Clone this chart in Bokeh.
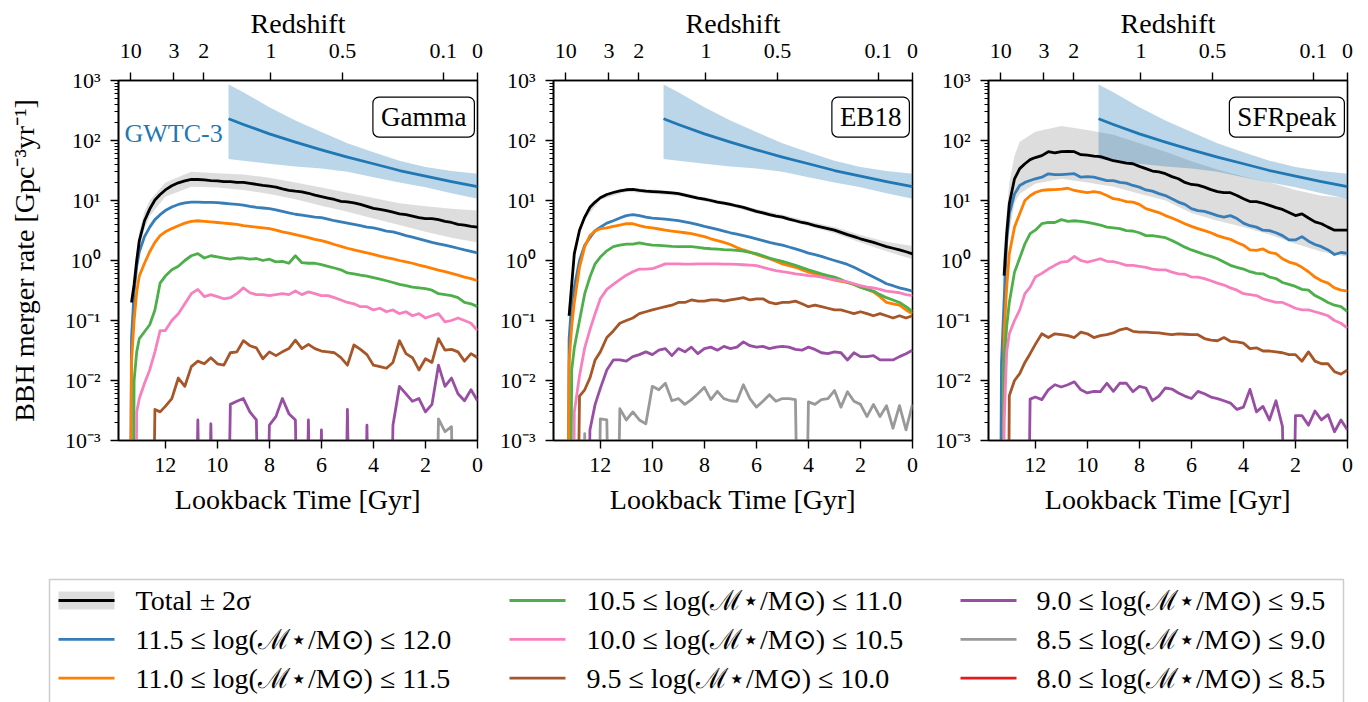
from bokeh.plotting import figure
from bokeh.models import Range1d, LinearAxis, FixedTicker, Label
from bokeh.layouts import row, column
from bokeh.embed import file_html
from bokeh.resources import INLINE
from bokeh.core.properties import value

nan = float("nan")

# ---------------------------------------------------------------- data
# lookback time grid [Gyr] shared by all rate curves
t_grid = [13.4, 13.3, 13.2, 13.1, 13.0, 12.8, 12.6, 12.4, 12.2,
          12.0, 11.75, 11.5, 11.25, 11.0, 10.75, 10.5, 10.25, 10.0, 9.75,
          9.5, 9.25, 9.0, 8.75, 8.5, 8.25, 8.0, 7.75, 7.5, 7.25,
          7.0, 6.75, 6.5, 6.25, 6.0, 5.75, 5.5, 5.25, 5.0, 4.75,
          4.5, 4.25, 4.0, 3.75, 3.5, 3.25, 3.0, 2.75, 2.5, 2.25,
          2.0, 1.75, 1.5, 1.25, 1.0, 0.75, 0.5, 0.25, 0.0]
# lookback time grid for the +-2 sigma envelope of the total rate
t_band = [13.25, 13.0, 12.8, 12.6, 12.0, 11.0, 10.0, 9.0, 8.0, 7.0, 6.0,
          5.0, 4.0, 3.0, 2.0, 1.0, 0.0]

# GWTC-3 inferred BBH merger rate (median and 90% band)
gw_t = [9.57, 9.0, 8.0, 7.0, 6.0, 5.0, 4.0, 3.0, 2.0, 1.0, 0.0]
gw_mid = [230, 185, 129, 94, 70, 53, 41, 31.6, 25.5, 20.7, 17.1]
gw_hi = [858, 640, 359, 215, 138, 90, 64, 46, 36, 31, 27.8]
gw_lo = [49, 46, 41, 37, 34, 30, 24.5, 20, 16.7, 13.2, 10.7]

# redshift ticks on the top axis and their lookback times [Gyr]
z_labels = ["10", "3", "2", "1", "0.5", "0.1", "0"]
z_lookback = [13.33, 11.67, 10.52, 7.94, 5.19, 1.32, 0.0]

# ---- Gamma model [Gpc^-3 yr^-1]
gamma_total = [nan, 0.2, 0.4, 1.0, 2.15, 4.6, 7.2, 10.2, 12.6, 15,
               17.6, 19.7, 21.3, 22.4, 22.4, 22, 21.5, 21.2, 20.6, 20.6,
               20, 20, 19.3, 18.6, 17.9, 17.4, 16.7, 15.6, 14.8, 14.3,
               13.9, 13.2, 12.3, 11.6, 11.0, 10.4, 9.7, 9.5, 9.1, 8.6,
               8.0, 7.4, 7.1, 6.8, 6.4, 6.0, 5.8, 5.5, 5.2, 5.0,
               5.0, 4.8, 4.5, 4.3, 4.0, 3.9, 3.7, 3.6]
gamma_hi = [0.3, 3.0, 6.5, 10, 20, 30, 28.5, 27, 24, 20, 16.5, 13.5, 11, 9.0, 8.0, 7.3, 6.8]
gamma_lo = [0.15, 1.6, 3.3, 5.5, 11.5, 17, 16.5, 15, 12.8, 10.5, 8.2, 6.5, 5.0, 3.9, 3.0, 2.4, 2.0]
gamma_m115 = [0, 0.05, 0.3, 0.8, 1.4, 2.5, 3.6, 4.8, 5.8, 6.8,
              7.8, 8.6, 9.1, 9.4, 9.4, 9.3, 9.3, 9.2, 9.0, 8.8,
              8.6, 8.4, 8.0, 7.7, 7.5, 7.3, 7.0, 6.6, 6.2, 5.9,
              5.7, 5.5, 5.3, 5.2, 4.9, 4.6, 4.4, 4.2, 4.0, 3.8,
              3.6, 3.5, 3.3, 3.1, 3.0, 2.8, 2.6, 2.45, 2.3, 2.15,
              2.0, 1.9, 1.8, 1.7, 1.6, 1.5, 1.42, 1.34]
gamma_m110 = [0, 0.02, 0.1, 0.3, 0.55, 0.9, 1.4, 2.0, 2.6, 3.0,
              3.4, 3.8, 4.2, 4.5, 4.6, 4.5, 4.4, 4.3, 4.2, 4.1,
              4.0, 3.8, 3.7, 3.6, 3.5, 3.4, 3.2, 3.0, 2.85, 2.7,
              2.55, 2.4, 2.25, 2.15, 2.0, 1.85, 1.72, 1.6, 1.5, 1.42,
              1.34, 1.26, 1.18, 1.12, 1.06, 1.0, 0.95, 0.9, 0.84, 0.79,
              0.74, 0.69, 0.65, 0.61, 0.57, 0.53, 0.5, 0.46]
gamma_m105 = [0, 0, 0.01, 0.03, 0.05, 0.065, 0.085, 0.15, 0.42, 0.55,
              0.7, 0.8, 1.0, 1.2, 1.3, 1.1, 1.2, 1.15, 1.1, 1.05,
              1.1, 1.1, 1.05, 1.08, 1.0, 1.05, 0.95, 0.97, 0.9, 1.2,
              0.92, 0.9, 0.9, 0.85, 0.8, 0.75, 0.7, 0.62, 0.6, 0.57,
              0.55, 0.52, 0.49, 0.46, 0.43, 0.4, 0.38, 0.36, 0.35, 0.34,
              0.32, 0.28, 0.27, 0.26, 0.24, 0.2, 0.19, 0.17]
gamma_m100 = [0, 0, 0, 0.003, 0.005, 0.009, 0.015, 0.03, 0.068, 0.068,
              0.1, 0.13, 0.19, 0.28, 0.33, 0.25, 0.27, 0.25, 0.23, 0.24,
              0.28, 0.35, 0.29, 0.27, 0.27, 0.26, 0.27, 0.28, 0.27, 0.31,
              0.27, 0.3, 0.28, 0.26, 0.26, 0.24, 0.22, 0.2, 0.19, 0.17,
              0.17, 0.15, 0.16, 0.14, 0.15, 0.13, 0.14, 0.12, 0.13, 0.11,
              0.12, 0.13, 0.095, 0.1, 0.11, 0.1, 0.09, 0.068]
gamma_m095 = [0, 0, 0, 0, 0, 0, 0, 0.0033, 0.003, 0.0037,
              0.005, 0.011, 0.008, 0.017, 0.021, 0.019, 0.024, 0.019, 0.018, 0.029,
              0.03, 0.046, 0.038, 0.035, 0.023, 0.03, 0.026, 0.03, 0.034, 0.047,
              0.034, 0.04, 0.034, 0.031, 0.03, 0.029, 0.024, 0.018, 0.039, 0.033,
              0.027, 0.018, 0.017, 0.016, 0.02, 0.046, 0.028, 0.024, 0.015, 0.023,
              0.02, 0.05, 0.032, 0.033, 0.03, 0.021, 0.028, 0.024]
gamma_m090 = [0, 0, 0, 0, 0, 0, 0, 0, 0, 0,
              0, 0, 0, 0, 0.0022, 0, 0.0019, 0, 0, 0.004,
              0.0045, 0.005, 0.003, 0.0022, 0, 0.0018, 0.0025, 0.005, 0.0028, 0.0022,
              0, 0.0022, 0, 0.0015, 0, 0, 0, 0.0033, 0, 0,
              0.0018, 0, 0, 0, 0.0018, 0.008, 0.006, 0.0045, 0.005, 0.003,
              0.004, 0.018, 0.008, 0.011, 0.006, 0.0046, 0.007, 0.0046]
gamma_m085 = [0, 0, 0, 0, 0, 0, 0, 0, 0, 0,
              0, 0, 0, 0, 0, 0, 0, 0, 0, 0,
              0, 0, 0, 0, 0, 0, 0, 0, 0, 0,
              0, 0, 0, 0, 0, 0, 0, 0, 0, 0,
              0, 0, 0, 0, 0, 0, 0, 0, 0, 0,
              0, 0.0023, 0.0014, 0.0017, 0, 0, 0, 0]

# ---- EB18 model
eb_total = [nan, nan, 0.12, 0.4, 1.3, 3.2, 5.3, 7.7, 9.4, 11.1,
            12.6, 13.6, 14.5, 15.1, 15.3, 14.7, 14.3, 14.1, 13.9, 13.7,
            13.4, 13.0, 12.3, 11.6, 11.0, 10.5, 10.0, 9.4, 9.0, 8.6,
            8.1, 7.7, 7.1, 6.6, 6.2, 5.8, 5.5, 5.3, 4.9, 4.6,
            4.3, 4.1, 3.8, 3.6, 3.4, 3.2, 2.95, 2.7, 2.5, 2.3,
            2.15, 2.0, 1.85, 1.7, 1.6, 1.5, 1.4, 1.29]
eb_hi = [0.13, 1.45, 3.6, 5.8, 12.0, 16.3, 15.2, 14.0, 11.3, 9.3, 7.2, 5.8, 4.5, 3.6, 2.65, 2.05, 1.75]
eb_lo = [0.1, 1.15, 2.8, 4.8, 10.3, 14.0, 13.0, 12.0, 9.7, 8.0, 6.1, 4.85, 3.75, 2.85, 2.0, 1.42, 1.05]
eb_m115 = [0, 0, 0.05, 0.2, 0.36, 1.0, 1.8, 2.4, 3.15, 3.6,
           4.2, 4.6, 5.1, 5.6, 5.8, 5.6, 5.3, 5.1, 5.0, 4.9,
           4.75, 4.6, 4.4, 4.2, 3.95, 3.7, 3.5, 3.3, 3.1, 2.9,
           2.75, 2.6, 2.45, 2.3, 2.15, 2.0, 1.9, 1.8, 1.68, 1.56,
           1.45, 1.33, 1.25, 1.17, 1.08, 1.0, 0.93, 0.86, 0.77, 0.68,
           0.6, 0.53, 0.47, 0.41, 0.38, 0.35, 0.33, 0.31]
eb_m110 = [0, 0, 0.02, 0.08, 0.2, 0.77, 1.7, 2.6, 3.1, 3.4,
           3.5, 3.7, 3.9, 4.1, 4.1, 3.8, 3.6, 3.5, 3.35, 3.2,
           3.1, 3.0, 2.9, 2.8, 2.65, 2.5, 2.3, 2.15, 2.0, 1.85,
           1.65, 1.5, 1.38, 1.26, 1.16, 1.07, 0.97, 0.88, 0.82, 0.77,
           0.7, 0.64, 0.6, 0.56, 0.51, 0.47, 0.45, 0.43, 0.4, 0.36,
           0.33, 0.3, 0.25, 0.2, 0.19, 0.18, 0.15, 0.13]
eb_m105 = [0, 0, 0, 0.015, 0.035, 0.1, 0.28, 0.53, 0.88, 1.14,
           1.45, 1.7, 1.8, 1.87, 1.87, 1.97, 1.87, 1.8, 1.78, 1.75,
           1.72, 1.7, 1.7, 1.7, 1.65, 1.6, 1.57, 1.55, 1.52, 1.5,
           1.47, 1.43, 1.37, 1.3, 1.2, 1.1, 1.03, 0.97, 0.9, 0.83,
           0.76, 0.7, 0.65, 0.6, 0.56, 0.53, 0.48, 0.43, 0.4, 0.36,
           0.33, 0.31, 0.27, 0.24, 0.22, 0.2, 0.17, 0.14]
eb_m100 = [0, 0, 0, 0, 0.003, 0.012, 0.035, 0.07, 0.13, 0.23,
           0.33, 0.4, 0.48, 0.57, 0.65, 0.72, 0.72, 0.73, 0.8, 0.88,
           0.88, 0.88, 0.87, 0.87, 0.88, 0.88, 0.88, 0.88, 0.87, 0.87,
           0.86, 0.85, 0.84, 0.82, 0.77, 0.72, 0.68, 0.65, 0.63, 0.6,
           0.58, 0.56, 0.55, 0.53, 0.5, 0.48, 0.46, 0.44, 0.41, 0.38,
           0.36, 0.35, 0.33, 0.31, 0.3, 0.29, 0.27, 0.26]
eb_m095 = [0, 0, 0, 0, 0, 0.0055, 0.007, 0.011, 0.022, 0.03,
           0.052, 0.067, 0.09, 0.1, 0.11, 0.13, 0.14, 0.15, 0.16, 0.17,
           0.18, 0.2, 0.2, 0.22, 0.21, 0.21, 0.22, 0.22, 0.21, 0.22,
           0.23, 0.24, 0.22, 0.23, 0.23, 0.2, 0.19, 0.2, 0.2, 0.21,
           0.19, 0.17, 0.18, 0.17, 0.16, 0.15, 0.15, 0.14, 0.13, 0.14,
           0.13, 0.12, 0.13, 0.12, 0.11, 0.12, 0.11, 0.12]
eb_m090 = [0, 0, 0, 0, 0, 0, 0, 0.0015, 0.004, 0.0074,
           0.015, 0.022, 0.022, 0.021, 0.025, 0.027, 0.03, 0.027, 0.032, 0.034,
           0.026, 0.034, 0.03, 0.036, 0.028, 0.034, 0.036, 0.032, 0.037, 0.034,
           0.036, 0.044, 0.038, 0.036, 0.037, 0.034, 0.036, 0.037, 0.036, 0.033,
           0.032, 0.036, 0.033, 0.029, 0.028, 0.03, 0.029, 0.022, 0.029, 0.025,
           0.025, 0.026, 0.022, 0.022, 0.022, 0.025, 0.028, 0.032]
eb_m085 = [0, 0, 0, 0, 0, 0, 0.0013, 0, 0, 0.0023,
           0.0022, 0, 0.0034, 0.0022, 0.003, 0.0022, 0.0019, 0.008, 0.007, 0.009,
           0.0046, 0.005, 0.004, 0.0048, 0.006, 0.0077, 0.0048, 0.0066, 0.005, 0.0046,
           0.0045, 0.0085, 0.005, 0.0036, 0.0045, 0.0058, 0.0045, 0.005, 0.005, 0.0048,
           0, 0.0044, 0.004, 0.0048, 0.005, 0.0068, 0.0036, 0.0065, 0.0045, 0.004,
           0.0025, 0.004, 0.0025, 0.0038, 0.0016, 0.0038, 0.0015, 0.004]

# ---- SFRpeak model
sfr_total = [nan, nan, 0.56, 2.8, 8.8, 23, 34, 41, 48, 52,
             56, 65, 62, 65, 66, 65, 58, 57, 55, 54,
             50, 46, 44, 42, 41, 37, 34, 31, 30, 28,
             25, 23, 20, 18.5, 18, 16.7, 15.2, 14.1, 13.5, 13.5,
             12.1, 10.7, 9.6, 9.6, 9.0, 8.3, 7.6, 7.1, 6.3, 5.6,
             6.0, 5.1, 4.4, 4.1, 3.6, 3.2, 3.2, 3.2]
sfr_hi = [1.0, 20, 55, 95, 140, 175, 150, 125, 90, 65, 45, 33, 25, 20, 15, 12, 11]
sfr_lo = [0.3, 3, 9, 13, 19, 23, 20, 17, 13, 10, 6.2, 4.6, 3.6, 2.7, 1.9, 1.4, 1.15]
sfr_m115 = [0, 0.02, 0.22, 2.15, 6.0, 12.9, 17.8, 20, 21.5, 23,
            24.5, 27.8, 27, 27, 27.5, 28, 24.5, 25, 24.5, 23,
            21.5, 21.5, 20, 19.5, 17.8, 16.7, 15, 14.3, 13, 12.1,
            10.7, 9.4, 8.6, 7.3, 6.8, 6.6, 6.1, 5.6, 5.3, 5.6,
            5.0, 4.2, 3.8, 3.6, 3.2, 3.15, 2.9, 2.6, 2.2, 2.2,
            2.5, 2.1, 1.85, 1.7, 1.5, 1.26, 1.36, 1.32]
sfr_m110 = [0, 0, 0.06, 0.36, 1.3, 3.6, 6, 10, 12, 13.6,
            14.7, 15.1, 15.2, 15.5, 16, 14.7, 14.1, 13.5, 14.1, 13.5,
            12.1, 10.7, 10.3, 9.6, 9.4, 8.6, 7.3, 6.8, 6.3, 5.6,
            5.1, 4.6, 4.1, 3.7, 3.4, 3.15, 2.9, 2.6, 2.4, 2.25,
            2.0, 1.8, 1.5, 1.47, 1.56, 1.36, 1.3, 1.07, 0.94, 0.88,
            0.77, 0.65, 0.53, 0.46, 0.42, 0.35, 0.32, 0.31]
sfr_m105 = [0, 0, 0.02, 0.08, 0.2, 0.64, 1.1, 1.9, 2.8, 3.2,
            4.1, 4.3, 4.3, 4.8, 4.5, 4.6, 4.5, 4.3, 4.1, 3.9,
            3.6, 3.5, 3.4, 3.15, 3.1, 2.9, 2.6, 2.6, 2.5, 2.4,
            2.15, 1.9, 1.67, 1.5, 1.38, 1.26, 1.17, 1.07, 0.94, 0.83,
            0.77, 0.72, 0.65, 0.61, 0.6, 0.53, 0.5, 0.43, 0.4, 0.37,
            0.33, 0.32, 0.26, 0.23, 0.2, 0.18, 0.17, 0.14]
sfr_m100 = [0, 0, 0.002, 0.03, 0.06, 0.1, 0.15, 0.28, 0.36, 0.53,
            0.61, 0.72, 0.83, 0.94, 0.97, 1.17, 1.0, 0.94, 1.0, 1.07,
            0.97, 0.96, 0.9, 0.83, 0.83, 0.8, 0.77, 0.72, 0.7, 0.7,
            0.64, 0.6, 0.59, 0.53, 0.53, 0.5, 0.46, 0.42, 0.39, 0.35,
            0.32, 0.28, 0.27, 0.26, 0.23, 0.215, 0.2, 0.2, 0.18, 0.16,
            0.15, 0.15, 0.14, 0.13, 0.12, 0.1, 0.09, 0.075]
sfr_m095 = [0, 0, 0, 0, 0.0056, 0.01, 0.013, 0.02, 0.028, 0.04,
            0.06, 0.052, 0.06, 0.058, 0.056, 0.052, 0.064, 0.06, 0.052, 0.056,
            0.058, 0.062, 0.07, 0.074, 0.066, 0.064, 0.064, 0.063, 0.062, 0.06,
            0.058, 0.06, 0.059, 0.058, 0.058, 0.05, 0.047, 0.046, 0.052, 0.045,
            0.044, 0.042, 0.034, 0.035, 0.031, 0.031, 0.03, 0.029, 0.027, 0.027,
            0.021, 0.03, 0.021, 0.019, 0.019, 0.014, 0.0128, 0.015]
sfr_m090 = [0, 0, 0, 0, 0, 0, 0, 0, 0.0049, 0.0053,
            0.0048, 0.007, 0.0085, 0.0078, 0.0085, 0.0095, 0.007, 0.0062, 0.0066, 0.0065,
            0.009, 0.0066, 0.009, 0.009, 0.0065, 0.008, 0.0075, 0.0046, 0.0055, 0.0075,
            0.0072, 0.0062, 0.0055, 0.005, 0.0066, 0.006, 0.0053, 0.005, 0.0046, 0.0042,
            0.0033, 0.0036, 0.0071, 0.003, 0.0037, 0.0022, 0.0046, 0.0017, 0, 0.0026,
            0.0026, 0.0018, 0.0031, 0.0022, 0.0027, 0.0014, 0.0022, 0.0015]

bin_labels = [
    "11.5 ≤ log(ℳ⋆/M⊙) ≤ 12.0",
    "11.0 ≤ log(ℳ⋆/M⊙) ≤ 11.5",
    "10.5 ≤ log(ℳ⋆/M⊙) ≤ 11.0",
    "10.0 ≤ log(ℳ⋆/M⊙) ≤ 10.5",
    "9.5 ≤ log(ℳ⋆/M⊙) ≤ 10.0",
    "9.0 ≤ log(ℳ⋆/M⊙) ≤ 9.5",
    "8.5 ≤ log(ℳ⋆/M⊙) ≤ 9.0",
    "8.0 ≤ log(ℳ⋆/M⊙) ≤ 8.5",
]
bin_colors = ["#377eb8", "#ff7f00", "#4daf4a", "#f781bf",
              "#a65628", "#984ea3", "#999999", "#e41a1c"]

y_ticks = [1e-3, 1e-2, 1e-1, 1, 10, 100, 1000]
y_tick_labels = ["10⁻³", "10⁻²", "10⁻¹", "10⁰", "10¹", "10²", "10³"]
x_ticks = [0, 2, 4, 6, 8, 10, 12]

for arr in (gamma_total, gamma_m115, gamma_m110, gamma_m105, gamma_m100, gamma_m095,
            gamma_m090, gamma_m085, eb_total, eb_m115, eb_m110, eb_m105, eb_m100,
            eb_m095, eb_m090, eb_m085, sfr_total, sfr_m115, sfr_m110, sfr_m105,
            sfr_m100, sfr_m095, sfr_m090):
    assert len(arr) == len(t_grid), len(arr)
for arr in (gamma_hi, gamma_lo, eb_hi, eb_lo, sfr_hi, sfr_lo):
    assert len(arr) == len(t_band), len(arr)

# ---------------------------------------------------------------- style
FONT = "Liberation Serif"
GW_BLUE = "#1f77b4"
LW = 2.8
FRAME_W = 359
FIG_H = 520
FLOOR = 1e-9  # zero rates sit far below the axis floor, like a clipped log plot


def floor_zero(vals):
    return [v if (v != v or v > 0) else FLOOR for v in vals]


def make_panel(name, total, lo, hi, bins, left, right, ylabel, gw_text):
    p = figure(width=left + FRAME_W + right, height=FIG_H,
               x_range=Range1d(13.8, 0), y_range=Range1d(1e-3, 1e3),
               y_axis_type="log", output_backend="svg", toolbar_location=None,
               min_border_left=left, min_border_right=right,
               min_border_top=80, min_border_bottom=80)
    p.grid.visible = False
    p.outline_line_color = "black"
    p.outline_line_width = 1.6
    p.background_fill_color = "white"
    p.border_fill_color = "white"

    # total-rate envelope and the GWTC-3 band
    p.varea(x=t_band, y1=lo, y2=hi, fill_color="#808080", fill_alpha=0.27)
    p.varea(x=gw_t, y1=gw_lo, y2=gw_hi, fill_color=GW_BLUE, fill_alpha=0.3)

    for vals, col in zip(bins, bin_colors):
        p.line(t_grid, floor_zero(vals), line_color=col, line_width=LW,
               line_join="round")
    p.line(t_grid, total, line_color="black", line_width=LW, line_join="round")
    p.line(gw_t, gw_mid, line_color=GW_BLUE, line_width=LW, line_join="round")

    # axes
    yax = p.yaxis[0]
    minor = [m * 10.0 ** e for e in range(-3, 3) for m in range(2, 10)]
    yax.ticker = FixedTicker(ticks=y_ticks, minor_ticks=minor)
    yax.major_label_overrides = dict(zip(y_ticks, y_tick_labels))
    xax = p.xaxis[0]
    xax.ticker = FixedTicker(ticks=x_ticks, minor_ticks=[])
    xax.axis_label = "Lookback Time [Gyr]"
    if ylabel:
        yax.axis_label = "BBH merger rate [Gpc⁻³yr⁻¹]"

    top = LinearAxis(ticker=FixedTicker(ticks=z_lookback, minor_ticks=[]),
                     major_label_overrides=dict(zip(z_lookback, z_labels)),
                     axis_label="Redshift")
    p.add_layout(top, "above")

    for ax in (xax, yax, top):
        ax.axis_line_width = 1.6
        ax.major_tick_line_width = 1.4
        ax.minor_tick_line_width = 1.1
        ax.major_tick_out = 8
        ax.major_tick_in = 0
        ax.minor_tick_out = 4
        ax.minor_tick_in = 0
        ax.major_label_text_font = FONT
        ax.major_label_text_font_size = "22px"
        ax.major_label_text_color = "black"
        ax.axis_label_text_font = FONT
        ax.axis_label_text_font_size = "28px"
        ax.axis_label_text_font_style = "normal"
        ax.axis_label_text_color = "black"
        ax.major_label_standoff = 9
        ax.axis_label_standoff = 9
    yax.major_label_standoff = 10
    yax.axis_label_standoff = 22
    top.major_label_standoff = 15
    top.axis_label_standoff = 2

    p.add_layout(Label(x=0.12, y=246, text=name, text_align="right",
                       text_baseline="middle",
                       text_font=FONT, text_font_size="27px", text_color="black",
                       background_fill_color="white", border_line_color="black",
                       border_line_width=1.2, border_radius=6,
                       padding=dict(left=8, right=8, top=5, bottom=5)))
    if gw_text:
        p.add_layout(Label(x=13.57, y=131, text="GWTC-3", text_align="left",
                           text_baseline="middle", text_font=FONT,
                           text_font_size="26px", text_color=GW_BLUE))
    return p


p1 = make_panel("Gamma", gamma_total, gamma_lo, gamma_hi,
                [gamma_m115, gamma_m110, gamma_m105, gamma_m100, gamma_m095,
                 gamma_m090, gamma_m085], 118, 8, True, True)
p2 = make_panel("EB18", eb_total, eb_lo, eb_hi,
                [eb_m115, eb_m110, eb_m105, eb_m100, eb_m095, eb_m090, eb_m085],
                68, 8, False, False)
p3 = make_panel("SFRpeak", sfr_total, sfr_lo, sfr_hi,
                [sfr_m115, sfr_m110, sfr_m105, sfr_m100, sfr_m095, sfr_m090],
                68, 21, False, False)

# ---------------------------------------------------------------- legend
LEG_H = 182
leg = figure(width=1368, height=LEG_H, x_range=Range1d(0, 1368),
             y_range=Range1d(LEG_H, 0), output_backend="svg",
             toolbar_location=None, min_border=0,
             x_axis_location=None, y_axis_location=None)
leg.grid.visible = False
leg.outline_line_color = None
leg.quad(left=[49], right=[1343], top=[59], bottom=[LEG_H + 20],
         fill_color="white", line_color="#cccccc", line_width=1.5)

entry_labels = ["Total ± 2σ"] + bin_labels
entry_colors = ["black"] + bin_colors
col_x = [58, 509, 960]
text_x = [135, 586, 1036]
row_y = [80, 118.8, 157.6]
sample_len = 56

leg.quad(left=[col_x[0]], right=[col_x[0] + sample_len], top=[row_y[0] - 9],
         bottom=[row_y[0] + 9], fill_color="#808080", fill_alpha=0.27, line_color=None)
xs0, xs1, ys, tx, ty = [], [], [], [], []
for i, lab in enumerate(entry_labels):
    c, r = divmod(i, 3)
    xs0.append(col_x[c])
    xs1.append(col_x[c] + sample_len)
    ys.append(row_y[r])
    tx.append(text_x[c])
    ty.append(row_y[r])
leg.segment(x0=xs0, y0=ys, x1=xs1, y1=ys, line_color=entry_colors, line_width=LW)
leg.text(x=tx, y=ty, text=entry_labels, text_font=value(FONT),
         text_font_size="28px", text_baseline="middle", text_align="left",
         text_color="black")

layout = column(row(p1, p2, p3), leg)
open("out.html", "w").write(file_html(layout, INLINE))
